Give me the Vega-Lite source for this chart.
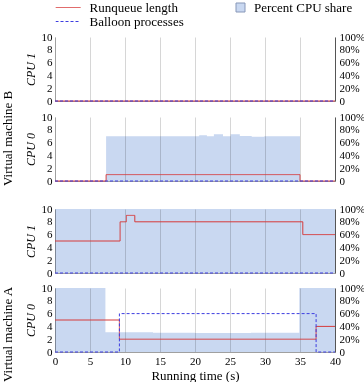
{
  "$schema": "https://vega.github.io/schema/vega-lite/v6.json",
  "padding": {"left": 1, "top": 1, "right": 0, "bottom": 0},
  "background": "white",
  "config": {
    "font": "Liberation Serif",
    "view": {"stroke": null},
    "axis": {"labelFont": "Liberation Serif", "labelFontSize": 11, "labelColor": "#000", "titleFont": "Liberation Serif", "titleFontWeight": "normal", "titleFontSize": 12, "titleColor": "#000", "gridColor": "#d6d6d6", "domainColor": "#a0a0a0", "tickColor": "#a0a0a0"},
    "title": {"font": "Liberation Serif", "fontSize": 13, "fontWeight": "normal", "color": "#000"},
    "legend": {"labelFont": "Liberation Serif", "labelFontSize": 13, "labelColor": "#000"}
  },
  "datasets": {
    "d": [
      {"p": "B1", "s": "Runqueue length", "t": 0, "v": 0},
      {"p": "B1", "s": "Runqueue length", "t": 40, "v": 0},
      {"p": "B1", "s": "Balloon processes", "t": 0, "v": 0},
      {"p": "B1", "s": "Balloon processes", "t": 40, "v": 0},
      {"p": "B1", "s": "Percent CPU share", "t": 0, "v": 0},
      {"p": "B1", "s": "Percent CPU share", "t": 40, "v": 0},
      {"p": "B0", "s": "Runqueue length", "t": 0, "v": 0},
      {"p": "B0", "s": "Runqueue length", "t": 7.3, "v": 1},
      {"p": "B0", "s": "Runqueue length", "t": 35, "v": 0},
      {"p": "B0", "s": "Runqueue length", "t": 40, "v": 0},
      {"p": "B0", "s": "Balloon processes", "t": 0, "v": 0},
      {"p": "B0", "s": "Balloon processes", "t": 40, "v": 0},
      {"p": "B0", "s": "Percent CPU share", "t": 0, "v": 0},
      {"p": "B0", "s": "Percent CPU share", "t": 7.3, "v": 70},
      {"p": "B0", "s": "Percent CPU share", "t": 20.6, "v": 71.5},
      {"p": "B0", "s": "Percent CPU share", "t": 21.7, "v": 70},
      {"p": "B0", "s": "Percent CPU share", "t": 22.7, "v": 73},
      {"p": "B0", "s": "Percent CPU share", "t": 24, "v": 70},
      {"p": "B0", "s": "Percent CPU share", "t": 25.1, "v": 73},
      {"p": "B0", "s": "Percent CPU share", "t": 26.4, "v": 70.5},
      {"p": "B0", "s": "Percent CPU share", "t": 28.1, "v": 69},
      {"p": "B0", "s": "Percent CPU share", "t": 29.9, "v": 70},
      {"p": "B0", "s": "Percent CPU share", "t": 35, "v": 0},
      {"p": "B0", "s": "Percent CPU share", "t": 40, "v": 0},
      {"p": "A1", "s": "Runqueue length", "t": 0, "v": 5},
      {"p": "A1", "s": "Runqueue length", "t": 9.3, "v": 8},
      {"p": "A1", "s": "Runqueue length", "t": 10.2, "v": 9},
      {"p": "A1", "s": "Runqueue length", "t": 11.4, "v": 8},
      {"p": "A1", "s": "Runqueue length", "t": 35.4, "v": 6},
      {"p": "A1", "s": "Runqueue length", "t": 40, "v": 6},
      {"p": "A1", "s": "Balloon processes", "t": 0, "v": 0},
      {"p": "A1", "s": "Balloon processes", "t": 40, "v": 0},
      {"p": "A1", "s": "Percent CPU share", "t": 0, "v": 100},
      {"p": "A1", "s": "Percent CPU share", "t": 40, "v": 100},
      {"p": "A0", "s": "Runqueue length", "t": 0, "v": 5},
      {"p": "A0", "s": "Runqueue length", "t": 9.2, "v": 2},
      {"p": "A0", "s": "Runqueue length", "t": 37.3, "v": 4},
      {"p": "A0", "s": "Runqueue length", "t": 40, "v": 4},
      {"p": "A0", "s": "Balloon processes", "t": 0, "v": 0},
      {"p": "A0", "s": "Balloon processes", "t": 9.2, "v": 6},
      {"p": "A0", "s": "Balloon processes", "t": 37.3, "v": 0},
      {"p": "A0", "s": "Balloon processes", "t": 40, "v": 0},
      {"p": "A0", "s": "Percent CPU share", "t": 0, "v": 100},
      {"p": "A0", "s": "Percent CPU share", "t": 7.2, "v": 31},
      {"p": "A0", "s": "Percent CPU share", "t": 14, "v": 30},
      {"p": "A0", "s": "Percent CPU share", "t": 20, "v": 29.5},
      {"p": "A0", "s": "Percent CPU share", "t": 28, "v": 30},
      {"p": "A0", "s": "Percent CPU share", "t": 34.9, "v": 100},
      {"p": "A0", "s": "Percent CPU share", "t": 40, "v": 100}
    ]
  },
  "spacing": 17,
  "vconcat": [
    {
      "title": {"text": "Virtual machine B", "orient": "left", "offset": 9},
      "spacing": 5,
      "vconcat": [
        {
          "width": 280, "height": 64,
          "data": {"name": "d"},
          "transform": [{"filter": "datum.p == 'B1'"}],
          "layer": [
            {
              "transform": [{"filter": "datum.s == 'Percent CPU share'"}],
              "mark": {"type": "area", "interpolate": "step-after", "blend": "multiply"},
              "encoding": {
                "x": {"field": "t", "type": "quantitative", "scale": {"domain": [0, 40], "nice": false}, "axis": {"values": [0,5,10,15,20,25,30,35,40], "labels": false, "ticks": false, "title": null}},
                "y": {"field": "v", "type": "quantitative", "scale": {"domain": [0, 100]}, "axis": {"orient": "right", "values": [0,20,40,60,80,100], "labelExpr": "datum.value == 0 ? '0' : datum.value + '%'", "grid": false, "title": null, "ticks": false, "labelPadding": 4, "domainColor": "#555"}},
                "fill": {"field": "s", "type": "nominal", "scale": {"domain": ["Percent CPU share"], "range": ["#c9d8f1"]},
                  "legend": {"orient": "none", "legendX": 179, "legendY": -36, "title": null, "symbolType": "square", "symbolSize": 81, "symbolStrokeColor": "#8797b8", "symbolStrokeWidth": 1, "labelOffset": 7, "clipHeight": 13,
                    "encode": {"symbols": {"update": {"stroke": {"value": "#8797b8"}, "strokeWidth": {"value": 1}, "opacity": {"value": 1}}}}}}
              }
            },
            {
              "transform": [{"filter": "datum.s != 'Percent CPU share'"}],
              "mark": {"type": "line", "interpolate": "step-after", "strokeWidth": 1},
              "encoding": {
                "x": {"field": "t", "type": "quantitative", "scale": {"domain": [0, 40], "nice": false}, "axis": {"values": [0,5,10,15,20,25,30,35,40], "labels": false, "ticks": false, "title": null}},
                "y": {"field": "v", "type": "quantitative", "scale": {"domain": [0, 10]}, "axis": {"orient": "left", "values": [0,2,4,6,8,10], "title": "CPU 1", "titleFontStyle": "italic", "titlePadding": 4, "ticks": false, "labelPadding": 3}},
                "stroke": {"field": "s", "type": "nominal", "scale": {"domain": ["Runqueue length", "Balloon processes"], "range": ["#d63b3b", "#3d3de0"]},
                  "legend": {"orient": "none", "legendX": 0.5, "legendY": -36, "title": null, "direction": "vertical", "rowPadding": 0, "clipHeight": 13, "labelOffset": 8, "symbolType": "stroke", "symbolSize": 100, "symbolStrokeWidth": 1,
                    "encode": {"symbols": {"update": {
                      "size": {"value": 625},
                      "x": {"value": 12.5},
                      "strokeDash": {"signal": "datum.value == 'Balloon processes' ? [3, 2] : [1, 0]"},
                      "opacity": {"value": 1}
                    }}}}},
                "strokeDash": {"field": "s", "type": "nominal", "scale": {"domain": ["Runqueue length", "Balloon processes"], "range": [[1, 0], [3, 2]]}, "legend": null}
              }
            }
          ],
          "resolve": {"scale": {"y": "independent"}}
        },
        {
          "width": 280, "height": 64,
          "data": {"name": "d"},
          "transform": [{"filter": "datum.p == 'B0'"}],
          "layer": [
            {
              "transform": [{"filter": "datum.s == 'Percent CPU share'"}],
              "mark": {"type": "area", "interpolate": "step-after", "blend": "multiply"},
              "encoding": {
                "x": {"field": "t", "type": "quantitative", "scale": {"domain": [0, 40], "nice": false}, "axis": {"values": [0,5,10,15,20,25,30,35,40], "labels": false, "ticks": false, "title": null}},
                "y": {"field": "v", "type": "quantitative", "scale": {"domain": [0, 100]}, "axis": {"orient": "right", "values": [0,20,40,60,80,100], "labelExpr": "datum.value == 0 ? '0' : datum.value + '%'", "grid": false, "title": null, "ticks": false, "labelPadding": 4, "domainColor": "#555"}},
                "fill": {"field": "s", "type": "nominal", "legend": null}
              }
            },
            {
              "transform": [{"filter": "datum.s != 'Percent CPU share'"}],
              "mark": {"type": "line", "interpolate": "step-after", "strokeWidth": 1},
              "encoding": {
                "x": {"field": "t", "type": "quantitative", "scale": {"domain": [0, 40], "nice": false}, "axis": {"values": [0,5,10,15,20,25,30,35,40], "labels": false, "ticks": false, "title": null}},
                "y": {"field": "v", "type": "quantitative", "scale": {"domain": [0, 10]}, "axis": {"orient": "left", "values": [0,2,4,6,8,10], "title": "CPU 0", "titleFontStyle": "italic", "titlePadding": 4, "ticks": false, "labelPadding": 3}},
                "stroke": {"field": "s", "type": "nominal", "legend": null},
                "strokeDash": {"field": "s", "type": "nominal", "legend": null}
              }
            }
          ],
          "resolve": {"scale": {"y": "independent"}}
        }
      ]
    },
    {
      "title": {"text": "Virtual machine A", "orient": "left", "offset": 9},
      "spacing": 4,
      "vconcat": [
        {
          "width": 280, "height": 64,
          "data": {"name": "d"},
          "transform": [{"filter": "datum.p == 'A1'"}],
          "layer": [
            {
              "transform": [{"filter": "datum.s == 'Percent CPU share'"}],
              "mark": {"type": "area", "interpolate": "step-after", "blend": "multiply"},
              "encoding": {
                "x": {"field": "t", "type": "quantitative", "scale": {"domain": [0, 40], "nice": false}, "axis": {"values": [0,5,10,15,20,25,30,35,40], "labels": false, "ticks": false, "title": null}},
                "y": {"field": "v", "type": "quantitative", "scale": {"domain": [0, 100]}, "axis": {"orient": "right", "values": [0,20,40,60,80,100], "labelExpr": "datum.value == 0 ? '0' : datum.value + '%'", "grid": false, "title": null, "ticks": false, "labelPadding": 4, "domainColor": "#555"}},
                "fill": {"field": "s", "type": "nominal", "legend": null}
              }
            },
            {
              "transform": [{"filter": "datum.s != 'Percent CPU share'"}],
              "mark": {"type": "line", "interpolate": "step-after", "strokeWidth": 1},
              "encoding": {
                "x": {"field": "t", "type": "quantitative", "scale": {"domain": [0, 40], "nice": false}, "axis": {"values": [0,5,10,15,20,25,30,35,40], "labels": false, "ticks": false, "title": null}},
                "y": {"field": "v", "type": "quantitative", "scale": {"domain": [0, 10]}, "axis": {"orient": "left", "values": [0,2,4,6,8,10], "title": "CPU 1", "titleFontStyle": "italic", "titlePadding": 4, "ticks": false, "labelPadding": 3}},
                "stroke": {"field": "s", "type": "nominal", "legend": null},
                "strokeDash": {"field": "s", "type": "nominal", "legend": null}
              }
            }
          ],
          "resolve": {"scale": {"y": "independent"}}
        },
        {
          "width": 280, "height": 64,
          "data": {"name": "d"},
          "transform": [{"filter": "datum.p == 'A0'"}],
          "layer": [
            {
              "transform": [{"filter": "datum.s == 'Percent CPU share'"}],
              "mark": {"type": "area", "interpolate": "step-after", "blend": "multiply"},
              "encoding": {
                "x": {"field": "t", "type": "quantitative", "scale": {"domain": [0, 40], "nice": false}, "axis": {"values": [0,5,10,15,20,25,30,35,40], "ticks": false, "title": "Running time (s)", "titleFontSize": 13, "labelPadding": 3, "titlePadding": 3, "labelFlush": false}},
                "y": {"field": "v", "type": "quantitative", "scale": {"domain": [0, 100]}, "axis": {"orient": "right", "values": [0,20,40,60,80,100], "labelExpr": "datum.value == 0 ? '0' : datum.value + '%'", "grid": false, "title": null, "ticks": false, "labelPadding": 4, "domainColor": "#555"}},
                "fill": {"field": "s", "type": "nominal", "legend": null}
              }
            },
            {
              "transform": [{"filter": "datum.s != 'Percent CPU share'"}],
              "mark": {"type": "line", "interpolate": "step-after", "strokeWidth": 1},
              "encoding": {
                "x": {"field": "t", "type": "quantitative", "scale": {"domain": [0, 40], "nice": false}, "axis": {"values": [0,5,10,15,20,25,30,35,40], "ticks": false, "title": "Running time (s)", "titleFontSize": 13, "labelPadding": 3, "titlePadding": 3, "labelFlush": false}},
                "y": {"field": "v", "type": "quantitative", "scale": {"domain": [0, 10]}, "axis": {"orient": "left", "values": [0,2,4,6,8,10], "title": "CPU 0", "titleFontStyle": "italic", "titlePadding": 4, "ticks": false, "labelPadding": 3}},
                "stroke": {"field": "s", "type": "nominal", "legend": null},
                "strokeDash": {"field": "s", "type": "nominal", "legend": null}
              }
            }
          ],
          "resolve": {"scale": {"y": "independent"}}
        }
      ]
    }
  ]
}
